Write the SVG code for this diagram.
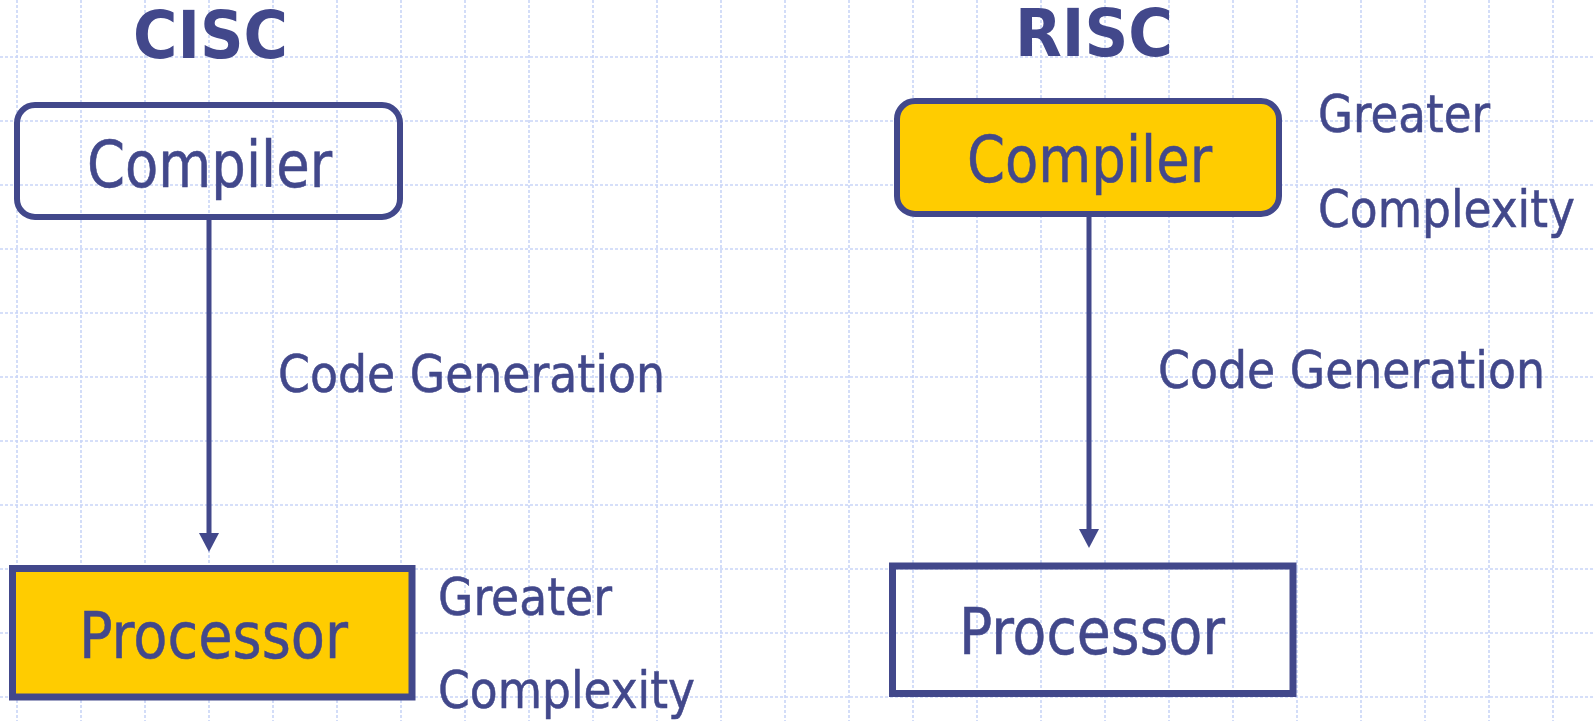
<svg xmlns="http://www.w3.org/2000/svg" width="1593" height="721" viewBox="0 0 1593 721">
  <defs>
    <style>
      .grid line { stroke: #c9d5f7; stroke-width: 1.6; stroke-dasharray: 3 2; }
      .box { stroke: #42488b; fill: none; }
      .hot { fill: #ffcc00; }
      .txt { font-family: "DejaVu Sans", "Liberation Sans", sans-serif; font-stretch: condensed; fill: #42488b; stroke: #42488b; stroke-width: 0.5; }
      .title { font-family: "DejaVu Sans", "Liberation Sans", sans-serif; font-weight: bold; fill: #42488b; font-size: 66px; }
      .big { font-size: 64px; }
      .small { font-size: 52px; }
      .wire { stroke: #42488b; stroke-width: 5; fill: none; }
      .head { fill: #42488b; }
    </style>
  </defs>
  <rect width="1593" height="721" fill="#ffffff"/>

  <!-- background grid -->
  <g class="grid">
    <line x1="17" y1="0" x2="17" y2="721"/>
    <line x1="81" y1="0" x2="81" y2="721"/>
    <line x1="145" y1="0" x2="145" y2="721"/>
    <line x1="209" y1="0" x2="209" y2="721"/>
    <line x1="273" y1="0" x2="273" y2="721"/>
    <line x1="337" y1="0" x2="337" y2="721"/>
    <line x1="401" y1="0" x2="401" y2="721"/>
    <line x1="465" y1="0" x2="465" y2="721"/>
    <line x1="529" y1="0" x2="529" y2="721"/>
    <line x1="593" y1="0" x2="593" y2="721"/>
    <line x1="657" y1="0" x2="657" y2="721"/>
    <line x1="721" y1="0" x2="721" y2="721"/>
    <line x1="785" y1="0" x2="785" y2="721"/>
    <line x1="849" y1="0" x2="849" y2="721"/>
    <line x1="913" y1="0" x2="913" y2="721"/>
    <line x1="977" y1="0" x2="977" y2="721"/>
    <line x1="1041" y1="0" x2="1041" y2="721"/>
    <line x1="1105" y1="0" x2="1105" y2="721"/>
    <line x1="1169" y1="0" x2="1169" y2="721"/>
    <line x1="1233" y1="0" x2="1233" y2="721"/>
    <line x1="1297" y1="0" x2="1297" y2="721"/>
    <line x1="1361" y1="0" x2="1361" y2="721"/>
    <line x1="1425" y1="0" x2="1425" y2="721"/>
    <line x1="1489" y1="0" x2="1489" y2="721"/>
    <line x1="1553" y1="0" x2="1553" y2="721"/>
    <line x1="0" y1="57" x2="1593" y2="57"/>
    <line x1="0" y1="121" x2="1593" y2="121"/>
    <line x1="0" y1="185" x2="1593" y2="185"/>
    <line x1="0" y1="249" x2="1593" y2="249"/>
    <line x1="0" y1="313" x2="1593" y2="313"/>
    <line x1="0" y1="377" x2="1593" y2="377"/>
    <line x1="0" y1="441" x2="1593" y2="441"/>
    <line x1="0" y1="505" x2="1593" y2="505"/>
    <line x1="0" y1="569" x2="1593" y2="569"/>
    <line x1="0" y1="633" x2="1593" y2="633"/>
    <line x1="0" y1="697" x2="1593" y2="697"/>
  </g>

  <!-- column headings -->
  <g id="cisc-title">
    <text class="title" x="133" y="58" textLength="155" lengthAdjust="spacingAndGlyphs">CISC</text>
  </g>
  <g id="risc-title">
    <text class="title" x="1015" y="56" textLength="158" lengthAdjust="spacingAndGlyphs">RISC</text>
  </g>

  <!-- connectors -->
  <g id="connectors">
    <line class="wire" x1="209" y1="220" x2="209" y2="535"/>
    <polygon class="head" points="199,533 219,533 209,552"/>
    <line class="wire" x1="1089" y1="217" x2="1089" y2="531"/>
    <polygon class="head" points="1079,529 1099,529 1089,548"/>
    <text class="txt small" x="278" y="392" textLength="387" lengthAdjust="spacingAndGlyphs">Code Generation</text>
    <text class="txt small" x="1158" y="388" textLength="387" lengthAdjust="spacingAndGlyphs">Code Generation</text>
  </g>

  <!-- CISC side -->
  <g id="cisc-compiler">
    <rect class="box" x="17" y="105" width="383" height="112" rx="18" stroke-width="6"/>
    <text class="txt big" x="87" y="187" textLength="245" lengthAdjust="spacingAndGlyphs">Compiler</text>
  </g>
  <g id="cisc-processor">
    <rect class="box hot" x="12.5" y="568.5" width="399.5" height="128.5" stroke-width="7"/>
    <text class="txt big" x="79" y="658" textLength="269" lengthAdjust="spacingAndGlyphs">Processor</text>
  </g>
  <g id="cisc-note">
    <text class="txt small" x="438" y="615" textLength="174" lengthAdjust="spacingAndGlyphs">Greater</text>
    <text class="txt small" x="438" y="708" textLength="257" lengthAdjust="spacingAndGlyphs">Complexity</text>
  </g>

  <!-- RISC side -->
  <g id="risc-compiler">
    <rect class="box hot" x="897" y="101" width="382" height="113" rx="18" stroke-width="6"/>
    <text class="txt big" x="967" y="182" textLength="245" lengthAdjust="spacingAndGlyphs">Compiler</text>
  </g>
  <g id="risc-processor">
    <rect class="box" x="892.5" y="566" width="400.5" height="127.5" stroke-width="7"/>
    <text class="txt big" x="959" y="654" textLength="266" lengthAdjust="spacingAndGlyphs">Processor</text>
  </g>
  <g id="risc-note">
    <text class="txt small" x="1318" y="132" textLength="172" lengthAdjust="spacingAndGlyphs">Greater</text>
    <text class="txt small" x="1318" y="227" textLength="257" lengthAdjust="spacingAndGlyphs">Complexity</text>
  </g>
</svg>
